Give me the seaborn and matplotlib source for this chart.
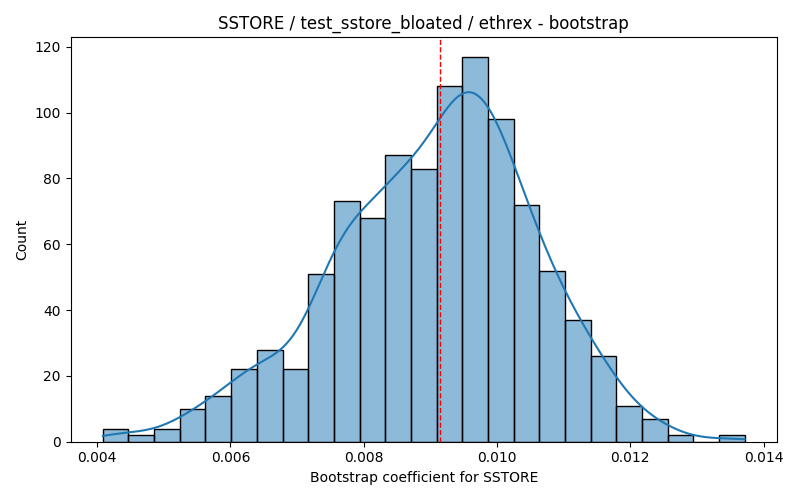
import numpy as np
import pandas as pd
import seaborn as sns
import matplotlib
matplotlib.use("Agg")
import matplotlib.pyplot as plt

# bin counts (25 bins)
bin_lo = 0.004085
bin_hi = 0.013716
counts = [4, 2, 4, 10, 14, 22, 28, 22, 51, 73, 68, 87, 83,
          108, 117, 98, 72, 52, 37, 26, 11, 7, 2, 0, 2]
mean_coef = 0.00915

edges = np.linspace(bin_lo, bin_hi, len(counts) + 1)
centers = (edges[:-1] + edges[1:]) / 2
df = pd.DataFrame({'coef': np.repeat(centers, counts)})

plt.figure(figsize=(8, 5))
sns.histplot(data=df, x='coef', bins=edges, kde=True, kde_kws={'cut': 0.5})
plt.axvline(mean_coef, color='red', linestyle='--', linewidth=1)
plt.title("SSTORE / test_sstore_bloated / ethrex - bootstrap")
plt.xlabel("Bootstrap coefficient for SSTORE")
plt.ylabel("Count")
plt.tight_layout()
plt.savefig("out.png", dpi=100)
